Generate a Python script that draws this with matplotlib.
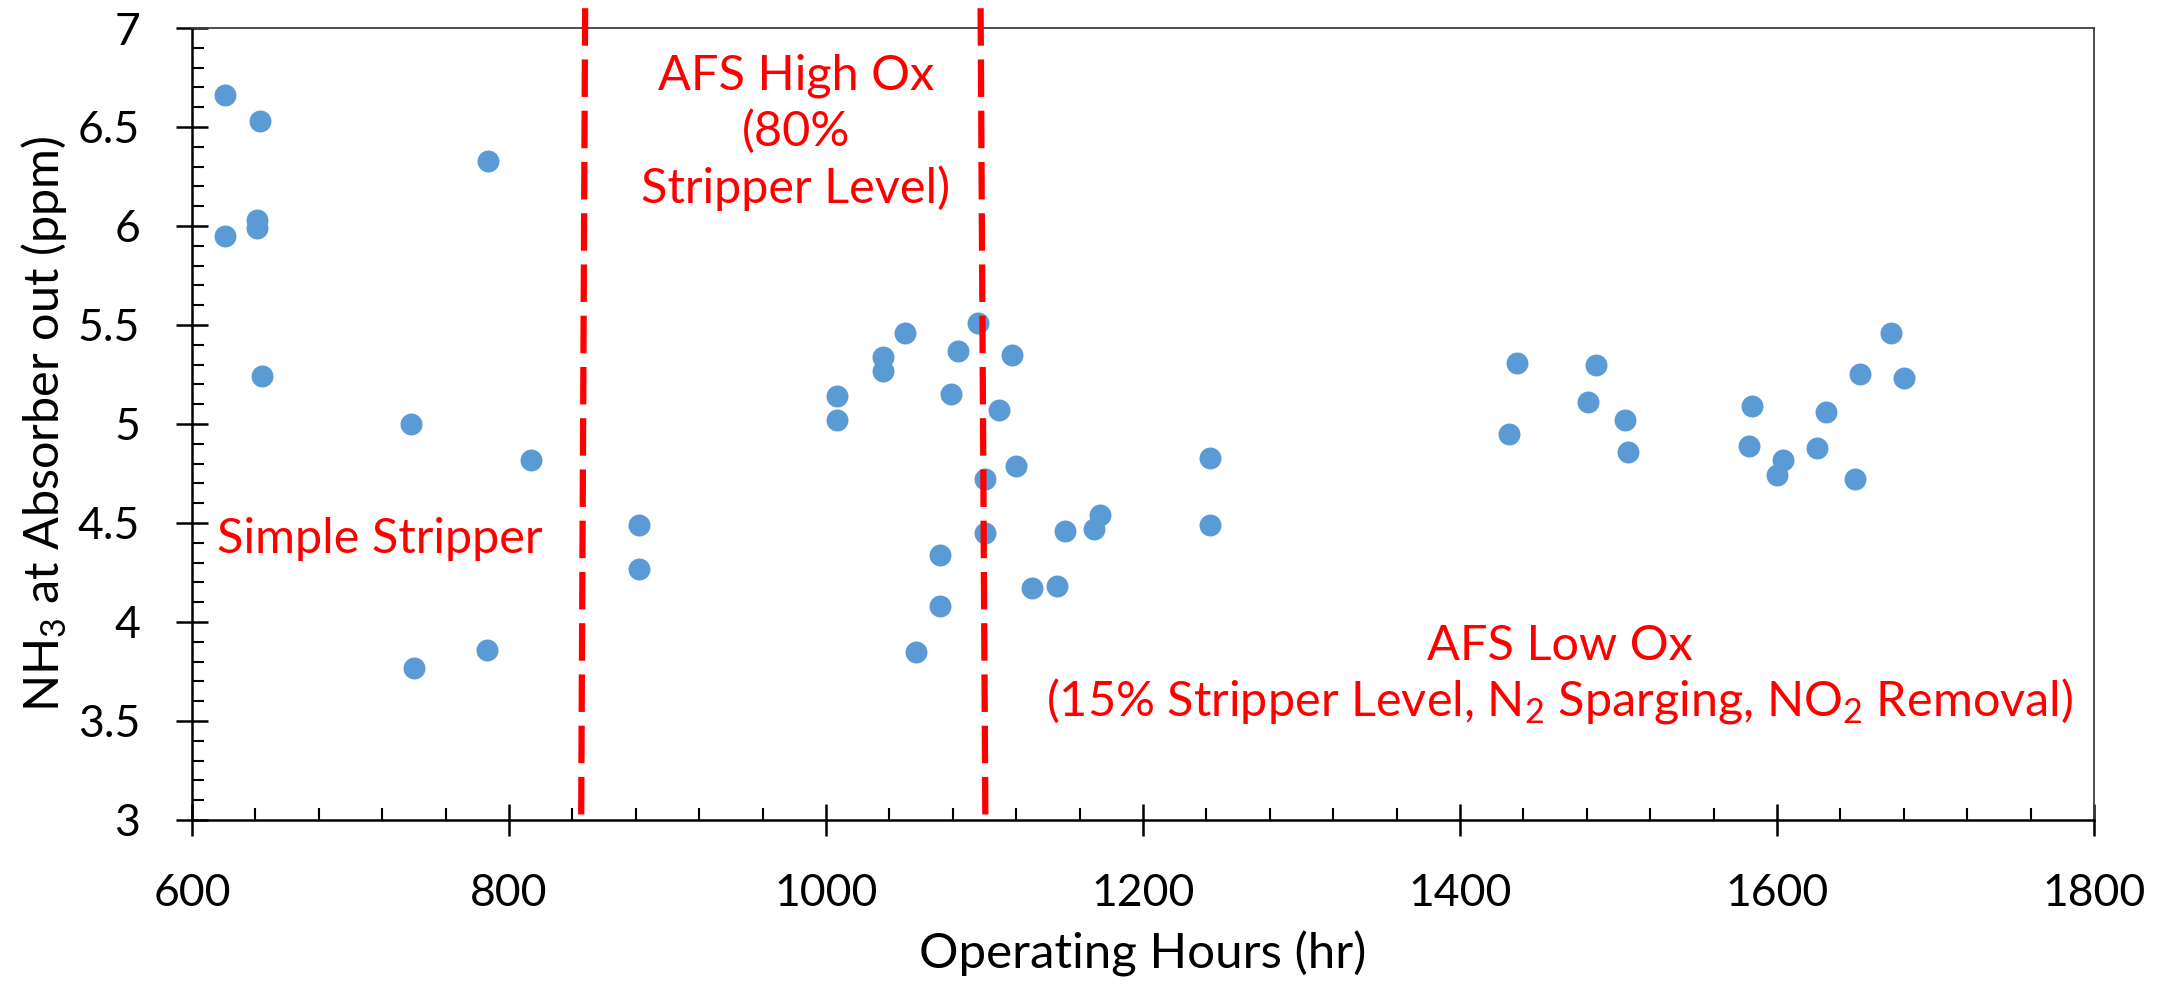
import numpy as np
import matplotlib
matplotlib.use("Agg")
import matplotlib.pyplot as plt
from matplotlib.ticker import MultipleLocator, FuncFormatter

plt.rcParams['font.family'] = ['Lato', 'DejaVu Sans']
plt.rcParams['mathtext.fontset'] = 'custom'
plt.rcParams['mathtext.rm'] = 'Lato'
plt.rcParams['mathtext.default'] = 'regular'

# operating hours and NH3 readings
hours = [621, 643, 787, 641, 641, 621, 644, 738, 814, 882, 882, 786, 740,
         1007, 1007, 1036, 1036, 1050, 1083, 1079, 1096, 1117, 1109, 1120,
         1100, 1100, 1072, 1072, 1057, 1130, 1146, 1151, 1169, 1173, 1242, 1242,
         1436, 1431, 1486, 1481, 1504, 1506, 1584, 1582, 1604, 1600, 1625,
         1631, 1652, 1649, 1672, 1680]
nh3 = [6.66, 6.53, 6.33, 6.03, 5.99, 5.95, 5.24, 5.00, 4.82, 4.49, 4.27, 3.86, 3.77,
       5.14, 5.02, 5.34, 5.27, 5.46, 5.37, 5.15, 5.51, 5.35, 5.07, 4.79,
       4.72, 4.45, 4.34, 4.08, 3.85, 4.17, 4.18, 4.46, 4.47, 4.54, 4.83, 4.49,
       5.31, 4.95, 5.30, 5.11, 5.02, 4.86, 5.09, 4.89, 4.82, 4.74, 4.88,
       5.06, 5.25, 4.72, 5.46, 5.23]

# phase boundaries (slightly slanted hand-drawn lines): (x top, x bottom)
boundaries = [(848, 845.5), (1097.5, 1100.5)]

fig = plt.figure(figsize=(21.75, 9.86), dpi=100)
ax = fig.add_axes([0.0883, 0.1684, 0.8745, 0.8032])

ax.scatter(hours, nh3, s=250, color='#5B9BD5', zorder=3, linewidths=0)

for xt, xb in boundaries:
    ax.plot([xt, xb], [7.1, 3.0], color='#FF0000', lw=4.5,
            dashes=(6, 2.2), clip_on=False, zorder=4)

ax.set_xlim(600, 1800)
ax.set_ylim(3, 7)
ax.xaxis.set_major_locator(MultipleLocator(200))
ax.xaxis.set_minor_locator(MultipleLocator(40))
ax.yaxis.set_major_locator(MultipleLocator(0.5))
ax.yaxis.set_minor_locator(MultipleLocator(0.1))
ax.yaxis.set_major_formatter(FuncFormatter(lambda v, p: '%g' % v))

ax.tick_params(which='major', direction='inout', length=23, width=1.8,
               labelsize=32, color='black')
ax.tick_params(axis='x', which='major', pad=27)
ax.tick_params(axis='y', which='major', pad=26)
ax.tick_params(which='minor', direction='in', length=8.6, width=1.5)

for side in ['left', 'bottom']:
    ax.spines[side].set_linewidth(1.8)
for side in ['top', 'right']:
    ax.spines[side].set_linewidth(1.3)
    ax.spines[side].set_color('#404040')

ax.set_xlabel('Operating Hours (hr)', fontsize=35.5, labelpad=12)
ax.set_ylabel('NH$_3$ at Absorber out (ppm)', fontsize=35, labelpad=6)

red = '#FF0000'
ax.text(616, 4.42, 'Simple Stripper', color=red, fontsize=35, va='center', ha='left')
ax.text(981, 6.475, 'AFS High Ox\n(80%\nStripper Level)', color=red, fontsize=35,
        va='center', ha='center', linespacing=1.3)
ax.text(1463, 3.73, 'AFS Low Ox\n(15% Stripper Level, N$_2$ Sparging, NO$_2$ Removal)',
        color=red, fontsize=35, va='center', ha='center', linespacing=1.2)

fig.savefig('out.png', dpi=100)
